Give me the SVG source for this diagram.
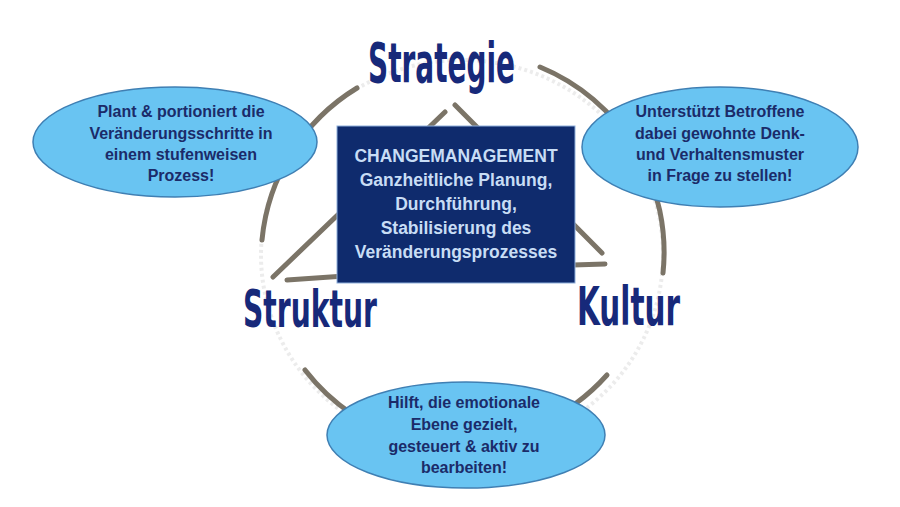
<svg xmlns="http://www.w3.org/2000/svg" width="900" height="507" viewBox="0 0 900 507">
<style>
.stroke{fill:none;stroke:#7b7467;stroke-width:5;stroke-linecap:round}
.faint{fill:none;stroke:#ececec;stroke-width:4;stroke-dasharray:3 3}
.ell{fill:#69c4f2;stroke:#3f7fb3;stroke-width:1.5}
.et{font-family:"Liberation Sans",Arial,sans-serif;font-weight:bold;font-size:16px;fill:#1b2b69;text-anchor:middle}
.bt{font-family:"Liberation Sans",Arial,sans-serif;font-weight:bold;font-size:17.5px;fill:#c8ddf5;text-anchor:middle}
.hw{font-family:"DejaVu Sans",sans-serif;font-weight:bold;fill:#17297a}
</style>
<rect width="900" height="507" fill="#ffffff"/>
<g id="connectors">
<ellipse class="faint" cx="462" cy="255" rx="201" ry="195"/>
<path class="stroke" d="M357,88 A200 200 0 0 0 262,240"/>
<path class="stroke" d="M540,67 A200 200 0 0 1 663,273"/>
<path class="stroke" d="M305,370 A200 200 0 0 0 352,414"/>
<path class="stroke" d="M575,404 A200 200 0 0 0 607,375"/>
<path class="stroke" d="M445,112 L273,277"/>
<path class="stroke" d="M455,105 L602,253"/>
<path class="stroke" d="M287,280 Q450,268 605,264"/>
</g>
<g id="strategie"><text class="hw" x="368" y="82" font-size="56" textLength="147" lengthAdjust="spacingAndGlyphs">Strategie</text></g>
<g id="struktur"><text class="hw" x="243" y="327" font-size="52" textLength="134" lengthAdjust="spacingAndGlyphs">Struktur</text></g>
<g id="kultur"><text class="hw" x="577" y="325" font-size="54" textLength="103" lengthAdjust="spacingAndGlyphs">Kultur</text></g>
<g id="center">
<rect x="337" y="126" width="238" height="157" fill="#0f2b6d" stroke="#8fb0dc" stroke-width="1"/>
<text class="bt" x="456" y="162">CHANGEMANAGEMENT</text>
<text class="bt" x="456" y="186">Ganzheitliche Planung,</text>
<text class="bt" x="456" y="210">Durchführung,</text>
<text class="bt" x="456" y="234">Stabilisierung des</text>
<text class="bt" x="456" y="258">Veränderungsprozesses</text>
</g>
<g id="left">
<ellipse class="ell" cx="175" cy="142" rx="142" ry="55"/>
<text class="et" x="181" y="117">Plant &amp; portioniert die</text>
<text class="et" x="181" y="139">Veränderungsschritte in</text>
<text class="et" x="181" y="160">einem stufenweisen</text>
<text class="et" x="181" y="181">Prozess!</text>
</g>
<g id="right">
<ellipse class="ell" cx="720" cy="147" rx="138" ry="60"/>
<text class="et" x="720" y="117">Unterstützt Betroffene</text>
<text class="et" x="720" y="139">dabei gewohnte Denk-</text>
<text class="et" x="720" y="160">und Verhaltensmuster</text>
<text class="et" x="720" y="181">in Frage zu stellen!</text>
</g>
<g id="bottom">
<ellipse class="ell" cx="466" cy="435" rx="139" ry="53"/>
<text class="et" x="464" y="408">Hilft, die emotionale</text>
<text class="et" x="464" y="430">Ebene gezielt,</text>
<text class="et" x="464" y="452">gesteuert &amp; aktiv zu</text>
<text class="et" x="464" y="473">bearbeiten!</text>
</g>
</svg>
